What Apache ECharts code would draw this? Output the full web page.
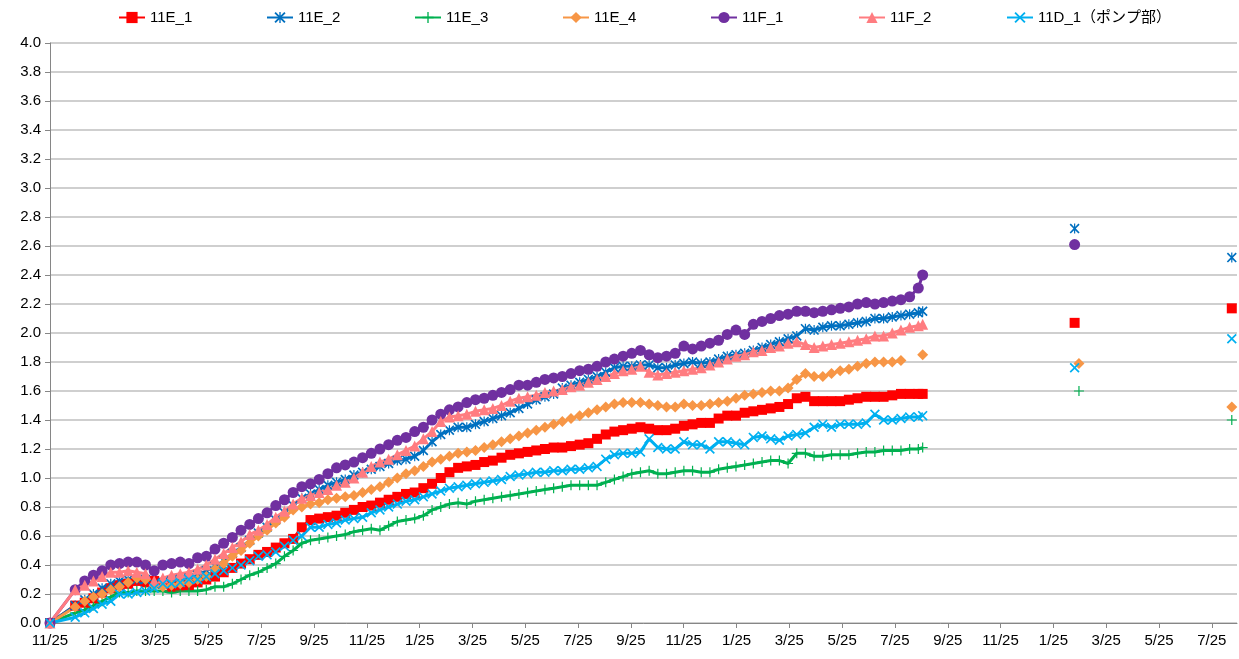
<!DOCTYPE html>
<html>
<head>
<meta charset="utf-8">
<script src="https://cdn.jsdelivr.net/npm/echarts@6/dist/echarts.min.js"></script>
<style>
    html, body { margin: 0; padding: 0; background: #fff; }
    #chart { width: 1239px; height: 659px; }
</style>
</head>
<body>
<div id="chart"></div>
<script>
// measurement day, counted from the first 11/25
const days = [0,
    29, 40, 50, 60, 70, 80, 90, 100, 110, 120,
    130, 140, 150, 160, 170, 180, 190, 200, 210, 220,
    230, 240, 250, 260, 270, 280, 290, 300, 310, 320,
    330, 340, 350, 360, 370, 380, 390, 400, 410, 420,
    430, 440, 450, 460, 470, 480, 490, 500, 510, 520,
    530, 540, 550, 560, 570, 580, 590, 600, 610, 620,
    630, 640, 650, 660, 670, 680, 690, 700, 710, 720,
    730, 740, 750, 760, 770, 780, 790, 800, 810, 820,
    830, 840, 850, 860, 870, 880, 890, 900, 910, 920,
    930, 940, 950, 960, 970, 980, 990, 1000, 1005];

const e1 = [0,
    0.12, 0.14, 0.17, 0.21, 0.24, 0.26, 0.27, 0.29, 0.28, 0.29,
    0.27, 0.25, 0.25, 0.26, 0.28, 0.30, 0.32, 0.35, 0.38, 0.41,
    0.44, 0.47, 0.49, 0.52, 0.55, 0.58, 0.66, 0.71, 0.72, 0.73,
    0.74, 0.76, 0.78, 0.80, 0.81, 0.83, 0.85, 0.87, 0.89, 0.90,
    0.93, 0.96, 1.00, 1.04, 1.07, 1.08, 1.09, 1.11, 1.12, 1.14,
    1.16, 1.17, 1.18, 1.19, 1.20, 1.21, 1.21, 1.22, 1.23, 1.24,
    1.27, 1.30, 1.32, 1.33, 1.34, 1.35, 1.34, 1.33, 1.33, 1.34,
    1.36, 1.37, 1.38, 1.38, 1.41, 1.43, 1.43, 1.45, 1.46, 1.47,
    1.48, 1.49, 1.51, 1.55, 1.56, 1.53, 1.53, 1.53, 1.53, 1.54,
    1.55, 1.56, 1.56, 1.56, 1.57, 1.58, 1.58, 1.58, 1.58];

const e2 = [0,
    0.12, 0.16, 0.20, 0.24, 0.27, 0.29, 0.30, 0.30, 0.30, 0.27,
    0.28, 0.29, 0.30, 0.31, 0.33, 0.36, 0.39, 0.43, 0.48, 0.52,
    0.57, 0.62, 0.66, 0.71, 0.76, 0.81, 0.86, 0.89, 0.92, 0.95,
    0.97, 0.99, 1.02, 1.04, 1.06, 1.08, 1.10, 1.12, 1.13, 1.15,
    1.19, 1.25, 1.30, 1.33, 1.35, 1.35, 1.37, 1.39, 1.41, 1.43,
    1.45, 1.48, 1.51, 1.54, 1.56, 1.58, 1.62, 1.64, 1.66, 1.68,
    1.70, 1.73, 1.76, 1.77, 1.77, 1.78, 1.78, 1.76, 1.76, 1.78,
    1.79, 1.80, 1.79, 1.80, 1.82, 1.84, 1.85, 1.86, 1.88, 1.90,
    1.92, 1.94, 1.96, 1.98, 2.03, 2.02, 2.04, 2.05, 2.05, 2.06,
    2.07, 2.08, 2.10, 2.10, 2.11, 2.12, 2.13, 2.14, 2.15];

const e3 = [0,
    0.07, 0.09, 0.12, 0.15, 0.18, 0.21, 0.21, 0.22, 0.22, 0.22,
    0.22, 0.21, 0.22, 0.22, 0.22, 0.23, 0.25, 0.25, 0.27, 0.30,
    0.33, 0.35, 0.38, 0.41, 0.46, 0.50, 0.55, 0.57, 0.58, 0.59,
    0.60, 0.61, 0.63, 0.64, 0.65, 0.64, 0.67, 0.70, 0.71, 0.72,
    0.74, 0.78, 0.80, 0.82, 0.83, 0.82, 0.84, 0.85, 0.86, 0.87,
    0.88, 0.89, 0.90, 0.91, 0.92, 0.93, 0.94, 0.95, 0.95, 0.95,
    0.95, 0.97, 0.99, 1.01, 1.03, 1.04, 1.05, 1.03, 1.03, 1.04,
    1.05, 1.05, 1.04, 1.04, 1.06, 1.07, 1.08, 1.09, 1.10, 1.11,
    1.12, 1.12, 1.10, 1.17, 1.17, 1.15, 1.15, 1.16, 1.16, 1.16,
    1.17, 1.18, 1.18, 1.19, 1.19, 1.19, 1.20, 1.20, 1.21];

const e4 = [0,
    0.11, 0.15, 0.18, 0.20, 0.23, 0.25, 0.28, 0.31, 0.30, 0.26,
    0.25, 0.26, 0.27, 0.28, 0.30, 0.32, 0.37, 0.41, 0.46, 0.50,
    0.55, 0.60, 0.64, 0.69, 0.73, 0.78, 0.80, 0.82, 0.83, 0.85,
    0.86, 0.87, 0.88, 0.90, 0.92, 0.94, 0.97, 1.00, 1.03, 1.05,
    1.08, 1.11, 1.13, 1.15, 1.17, 1.18, 1.19, 1.21, 1.23, 1.25,
    1.27, 1.29, 1.31, 1.33, 1.35, 1.37, 1.39, 1.41, 1.43, 1.45,
    1.47, 1.49, 1.51, 1.52, 1.52, 1.52, 1.51, 1.50, 1.49, 1.49,
    1.51, 1.50, 1.50, 1.51, 1.52, 1.53, 1.55, 1.57, 1.58, 1.59,
    1.60, 1.60, 1.62, 1.68, 1.72, 1.70, 1.70, 1.72, 1.74, 1.75,
    1.77, 1.79, 1.80, 1.80, 1.80, 1.81, null, null, 1.85];

const f1 = [0,
    0.23, 0.29, 0.33, 0.36, 0.40, 0.41, 0.42, 0.42, 0.40, 0.36,
    0.40, 0.41, 0.42, 0.41, 0.45, 0.46, 0.51, 0.55, 0.59, 0.64,
    0.68, 0.72, 0.76, 0.81, 0.85, 0.90, 0.94, 0.96, 0.99, 1.03,
    1.07, 1.09, 1.11, 1.14, 1.17, 1.20, 1.23, 1.26, 1.28, 1.32,
    1.35, 1.40, 1.44, 1.47, 1.49, 1.52, 1.54, 1.55, 1.57, 1.59,
    1.61, 1.64, 1.64, 1.66, 1.68, 1.69, 1.70, 1.72, 1.74, 1.75,
    1.77, 1.80, 1.82, 1.84, 1.86, 1.88, 1.85, 1.83, 1.84, 1.86,
    1.91, 1.89, 1.91, 1.93, 1.95, 1.99, 2.02, 1.99, 2.06, 2.08,
    2.10, 2.12, 2.13, 2.15, 2.15, 2.14, 2.15, 2.16, 2.17, 2.18,
    2.20, 2.21, 2.20, 2.21, 2.22, 2.23, 2.25, 2.31, 2.40];

const f2 = [0,
    0.23, 0.26, 0.29, 0.32, 0.35, 0.35, 0.36, 0.35, 0.34, 0.29,
    0.31, 0.33, 0.34, 0.35, 0.37, 0.40, 0.44, 0.48, 0.52, 0.56,
    0.61, 0.64, 0.68, 0.73, 0.77, 0.82, 0.86, 0.88, 0.90, 0.92,
    0.95, 0.97, 1.00, 1.04, 1.08, 1.11, 1.13, 1.16, 1.19, 1.22,
    1.27, 1.32, 1.39, 1.42, 1.43, 1.44, 1.46, 1.47, 1.48, 1.50,
    1.53, 1.55, 1.56, 1.57, 1.59, 1.60, 1.61, 1.63, 1.64, 1.66,
    1.68, 1.70, 1.72, 1.74, 1.75, 1.77, 1.73, 1.71, 1.72, 1.73,
    1.74, 1.75, 1.76, 1.78, 1.80, 1.82, 1.84, 1.85, 1.87, 1.88,
    1.90, 1.91, 1.93, 1.94, 1.92, 1.90, 1.91, 1.92, 1.93, 1.94,
    1.95, 1.96, 1.98, 1.98, 2.00, 2.02, 2.04, 2.05, 2.06];

const d1 = [0,
    0.04, 0.07, 0.10, 0.13, 0.15, 0.20, 0.20, 0.21, 0.22, 0.24,
    0.27, 0.27, 0.28, 0.30, 0.30, 0.32, 0.34, 0.36, 0.38, 0.40,
    0.43, 0.46, 0.47, 0.49, 0.53, 0.57, 0.60, 0.66, 0.66, 0.68,
    0.69, 0.71, 0.72, 0.73, 0.76, 0.78, 0.80, 0.82, 0.84, 0.85,
    0.87, 0.89, 0.91, 0.93, 0.94, 0.95, 0.96, 0.97, 0.98, 0.99,
    1.01, 1.02, 1.03, 1.04, 1.04, 1.05, 1.05, 1.06, 1.06, 1.07,
    1.08, 1.13, 1.16, 1.17, 1.17, 1.18, 1.27, 1.21, 1.20, 1.20,
    1.25, 1.23, 1.23, 1.20, 1.25, 1.25, 1.24, 1.23, 1.28, 1.29,
    1.27, 1.26, 1.29, 1.30, 1.31, 1.35, 1.37, 1.35, 1.37, 1.37,
    1.37, 1.38, 1.44, 1.40, 1.40, 1.41, 1.42, 1.42, 1.43];

// later single measurements [day, value]
const e1Later = [[1180, 2.07], [1361, 2.17]];
const e2Later = [[1180, 2.72], [1361, 2.52]];
const e3Later = [[1185, 1.60], [1361, 1.40]];
const e4Later = [[1185, 1.79], [1361, 1.49]];
const f1Later = [[1180, 2.61]];
const f2Later = [];
const d1Later = [[1180, 1.76], [1361, 1.96]];

const xTickLabels = ['11/25', '1/25', '3/25', '5/25', '7/25', '9/25',
    '11/25', '1/25', '3/25', '5/25', '7/25', '9/25',
    '11/25', '1/25', '3/25', '5/25', '7/25', '9/25',
    '11/25', '1/25', '3/25', '5/25', '7/25'];
const tickStep = 1338 / 22; // two months in days
const tickDays = xTickLabels.map((_, i) => i * tickStep);

const names = ['11E_1', '11E_2', '11E_3', '11E_4', '11F_1', '11F_2', '11D_1（ポンプ部）'];
const values = [e1, e2, e3, e4, f1, f2, d1];
const later = [e1Later, e2Later, e3Later, e4Later, f1Later, f2Later, d1Later];

const colors = ['#FF0000', '#0070C0', '#00B050', '#F79646', '#7030A0', '#FF7C80', '#00B0F0'];
const xPath = 'M0,1.2L1.2,0L5,3.8L8.8,0L10,1.2L6.2,5L10,8.8L8.8,10L5,6.2L1.2,10L0,8.8L3.8,5Z';
const symbols = [
    'rect',
    'path://' + xPath + 'M4.4,0H5.6V10H4.4Z',
    'path://M4.4,0H5.6V4.4H10V5.6H5.6V10H4.4V5.6H0V4.4H4.4Z',
    'diamond',
    'circle',
    'triangle',
    'path://' + xPath,
];
const sizes = [10, 10, 10, 11, 11, 11, 10];
const font = "'Liberation Sans', 'Noto Sans CJK JP', sans-serif";

function buildData(vals, extra) {
    const pts = days.map((d, i) => [d, vals[i]]);
    extra.forEach((p) => {
        pts.push([p[0] - 1, null]);
        pts.push(p);
    });
    return pts;
}

const chart = echarts.init(document.getElementById('chart'));
chart.setOption({
    animation: false,
    backgroundColor: '#fff',
    textStyle: { fontFamily: font },
    legend: names.map((n, i) => ({
        data: [n],
        left: 118 + i * 148,
        top: 10,
        padding: 0,
        itemWidth: 26,
        itemHeight: 14,
        textStyle: { fontFamily: font, fontSize: 15, color: '#000' },
    })),
    grid: { left: 50, right: 2, top: 43, bottom: 36 },
    xAxis: {
        type: 'value',
        min: 0,
        max: 1367,
        splitLine: { show: false },
        axisLine: { lineStyle: { color: '#868686', width: 1 } },
        axisTick: {
            customValues: tickDays,
            length: 5,
            lineStyle: { color: '#868686' },
        },
        axisLabel: {
            customValues: tickDays,
            formatter: (v) => xTickLabels[Math.round(v / tickStep)],
            margin: 10,
            fontSize: 15,
            color: '#000',
            fontFamily: font,
        },
    },
    yAxis: {
        type: 'value',
        min: 0,
        max: 4,
        interval: 0.2,
        axisLine: { show: true, lineStyle: { color: '#868686', width: 1 } },
        axisTick: { show: true, length: 5, lineStyle: { color: '#868686' } },
        axisLabel: {
            formatter: (v) => v.toFixed(1),
            margin: 9,
            fontSize: 15,
            color: '#000',
            fontFamily: font,
        },
        splitLine: { lineStyle: { color: '#bfbfbf', width: 1.5 } },
    },
    series: names.map((n, i) => ({
        name: n,
        type: 'line',
        data: buildData(values[i], later[i]),
        symbol: symbols[i],
        symbolSize: sizes[i],
        showSymbol: true,
        connectNulls: false,
        color: colors[i],
        lineStyle: { width: 3, color: colors[i] },
        itemStyle: { color: colors[i] },
    })),
});
</script>
</body>
</html>
